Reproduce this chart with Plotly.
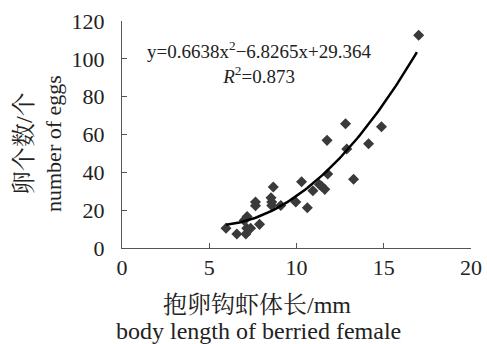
import plotly.graph_objects as go
import numpy as np

# body length (mm) and number of eggs
body_length = [5.96, 6.58, 7.10, 7.15, 7.37, 7.17, 7.0, 7.88, 7.65, 7.65,
               8.67, 8.54, 8.58, 8.58, 9.10, 9.96, 10.29, 10.62, 10.94, 11.31,
               11.44, 11.62, 11.75, 11.79, 12.81, 12.88, 13.27, 14.13, 14.87, 17.0]
egg_count = [10.4, 7.4, 7.4, 10.4, 10.4, 16.7, 14.6, 12.5, 24.3, 22.4,
             32.2, 26.6, 24.3, 22.5, 22.5, 24.3, 35.0, 21.3, 30.3, 33.6,
             32.6, 31.0, 56.9, 39.1, 65.7, 52.3, 36.3, 55.1, 64.1, 112.5]

# trend line coefficients as printed on the chart
coef_a, coef_b, coef_c = 0.6638, -6.8265, 29.364
x_ticks = [0, 5, 10, 15, 20]
y_ticks = [0, 20, 40, 60, 80, 100, 120]

xs = np.linspace(min(body_length), 16.9, 100)
ys = coef_a * xs**2 + coef_b * xs + coef_c

SERIF = "Liberation Serif, Times New Roman, Noto Serif CJK SC, Noto Sans CJK SC, serif"
W, H = 487, 344
L, R, T, B = 122, 16, 21, 96
PW, PH = W - L - R, H - T - B


def px(xp):
    return (xp - L) / PW


def py(yp):
    return (H - B - yp) / PH


def f(size):
    return dict(family=SERIF, size=size, color="#222")


fig = go.Figure()
fig.add_trace(go.Scatter(x=body_length, y=egg_count, mode="markers",
                         marker=dict(symbol="diamond", size=8.5, color="#3a3a3a"),
                         showlegend=False, cliponaxis=False))
fig.add_trace(go.Scatter(x=xs, y=ys, mode="lines",
                         line=dict(color="black", width=2.5), showlegend=False))

annotations = [
    dict(x=7.9, y=98, xref="x", yref="y",
         text="y=0.6638x<sup>2</sup>−6.8265x+29.364<br><i>R</i><sup>2</sup>=0.873",
         showarrow=False, align="center", font=f(19)),
    dict(x=px(257), y=py(305), text="抱卵钩虾体长/mm", font=f(24)),
    dict(x=px(258), y=py(331), text="body length of berried female", font=f(24)),
    dict(x=px(24), y=py(144), text="卵个数/个", textangle=-90, font=f(24)),
    dict(x=px(53), y=py(144), text="number of eggs", textangle=-90, font=f(22)),
]
for a in annotations[1:]:
    a.update(xref="paper", yref="paper", showarrow=False,
             xanchor="center", yanchor="middle")

fig.update_layout(
    width=W, height=H,
    margin=dict(l=L, r=R, t=T, b=B, autoexpand=False),
    plot_bgcolor="white", paper_bgcolor="white",
    font=f(22),
    annotations=annotations,
)
fig.update_xaxes(range=[0, 20], tickvals=x_ticks, showgrid=False, zeroline=False,
                 showline=True, linecolor="#555", linewidth=1, automargin=False,
                 ticks="inside", ticklen=5, tickcolor="#555", tickfont=f(22))
fig.update_yaxes(range=[0, 120], tickvals=y_ticks, showgrid=False, zeroline=False,
                 showline=True, linecolor="#555", linewidth=1, automargin=False,
                 ticks="inside", ticklen=5, tickcolor="#555", tickfont=f(22),
                 ticklabelstandoff=12)

fig.write_html("out.html", config={"displayModeBar": False},
               post_script="document.body.style.margin='0';document.body.style.overflow='hidden';")
